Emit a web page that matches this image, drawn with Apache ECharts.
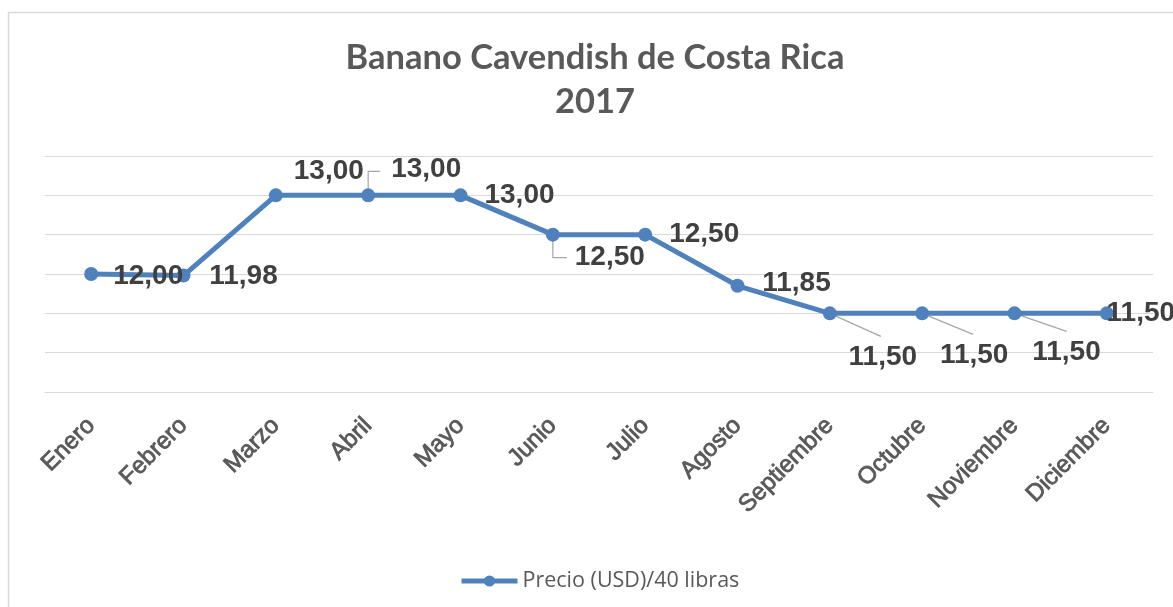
<!DOCTYPE html>
<html>
<head>
<meta charset="utf-8">
<script src="https://cdn.jsdelivr.net/npm/echarts@6/dist/echarts.min.js"></script>
<style>
  html, body { margin: 0; padding: 0; background: #ffffff; }
  #chart { width: 1173px; height: 607px; }
</style>
</head>
<body>
<div id="chart"></div>
<script>
// ---- Data ----
var categories = ['Enero', 'Febrero', 'Marzo', 'Abril', 'Mayo', 'Junio', 'Julio', 'Agosto', 'Septiembre', 'Octubre', 'Noviembre', 'Diciembre'];
var precio = [12.00, 11.98, 13.00, 13.00, 13.00, 12.50, 12.50, 11.85, 11.50, 11.50, 11.50, 11.50];
var seriesName = 'Precio (USD)/40 libras';
var titleLines = ['Banano Cavendish de Costa Rica', '2017'];

// ---- Styling (label placement, leader lines) ----
var labelOffsets = [[57, 2], [60, 1], [53, -24], [58, -26], [59, 0], [57, 23], [59, 0], [59, -3], [53, 44], [52, 42], [52, 39], [34, 0]];
var leaderLines = {
  3: [[0, -6], [0, -24], [12, -24]],
  5: [[0, 6], [0, 23], [14, 23]],
  8: [[0, 0], [51, 23]],
  9: [[0, 0], [51, 21]],
  10: [[0, 0], [52, 18]]
};

var blue = '#4f81bd';
var chart = echarts.init(document.getElementById('chart'), null, { renderer: 'canvas' });

function fmt(v) { return v.toFixed(2).replace('.', ','); }

var dataItems = precio.map(function (v, i) {
  return { value: v, label: { offset: labelOffsets[i] } };
});

var option = {
  backgroundColor: '#ffffff',
  animation: false,
  title: {
    text: titleLines.join('\n'),
    left: 590,
    textAlign: 'center',
    top: 31,
    textStyle: {
      fontFamily: 'Lato',
      fontWeight: 'bold',
      fontSize: 34.5,
      color: '#595959',
      lineHeight: 44
    }
  },
  legend: {
    top: 565,
    left: 454,
    itemWidth: 56,
    itemHeight: 14,
    itemGap: 10,
    lineStyle: { width: 5, color: blue },
    itemStyle: { color: blue },
    textStyle: { fontFamily: 'Open Sans', fontSize: 21.5, color: '#595959', padding: [0, 0, 0, 0] },
    data: [seriesName]
  },
  grid: { left: 45, right: 20, top: 156, height: 236, containLabel: false },
  xAxis: {
    type: 'category',
    data: categories,
    boundaryGap: true,
    axisLine: { show: true, lineStyle: { color: '#d9d9d9', width: 1 } },
    axisTick: { show: false },
    axisLabel: {
      rotate: 45,
      margin: 30,
      interval: 0,
      fontFamily: 'Liberation Sans',
      fontSize: 24,
      color: '#595959',
      textBorderColor: '#595959',
      textBorderWidth: 0.8
    }
  },
  yAxis: {
    type: 'value',
    min: 10.5,
    max: 13.5,
    interval: 0.5,
    axisLine: { show: false },
    axisTick: { show: false },
    axisLabel: { show: false },
    splitLine: { lineStyle: { color: '#d9d9d9', width: 1 } }
  },
  series: [{
    name: seriesName,
    type: 'line',
    data: dataItems,
    symbol: 'circle',
    symbolSize: 14,
    z: 3,
    lineStyle: { color: blue, width: 5 },
    itemStyle: { color: blue },
    label: {
      show: true,
      position: 'inside',
      formatter: function (p) { return fmt(p.value); },
      fontFamily: 'Liberation Sans',
      fontWeight: 'bold',
      fontSize: 28,
      color: '#404040'
    }
  }]
};
chart.setOption(option);

// Leader lines and chart-area border
var graphics = [{
  type: 'rect',
  shape: { x: 8.5, y: 12.5, width: 1300, height: 700 },
  style: { fill: null, stroke: '#d9d9d9', lineWidth: 1.5 },
  silent: true,
  z: 0
}];
Object.keys(leaderLines).forEach(function (k) {
  var i = +k;
  var p = chart.convertToPixel({ seriesIndex: 0 }, [i, precio[i]]);
  var pts = leaderLines[k].map(function (o) { return [p[0] + o[0], p[1] + o[1]]; });
  graphics.push({
    type: 'polyline',
    shape: { points: pts },
    style: { stroke: '#a6a6a6', lineWidth: 1.2, fill: null },
    silent: true,
    z: 1
  });
});
chart.setOption({ graphic: graphics });
</script>
</body>
</html>
